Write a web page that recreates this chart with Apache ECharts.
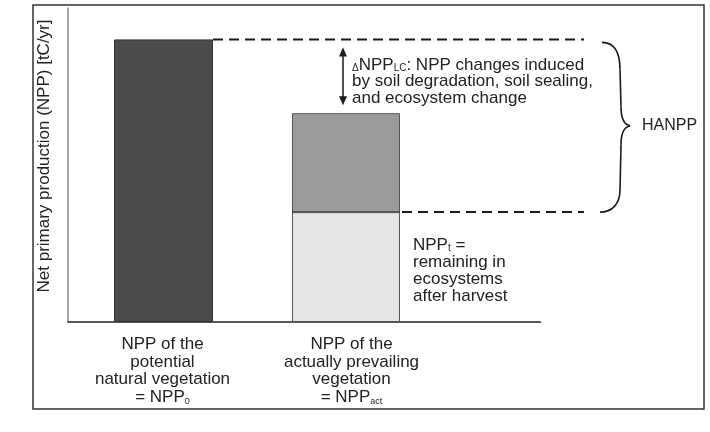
<!DOCTYPE html>
<html><head><meta charset="utf-8">
<script src="https://cdn.jsdelivr.net/npm/echarts@6/dist/echarts.min.js"></script>
<style>html,body{margin:0;padding:0;background:#fff}#c{width:710px;height:432px}</style>
</head><body><div id="c"></div>
<script>
// ---- data ----
const categories = [
  'NPP of the\npotential\nnatural vegetation\n= NPP{sub|0}',
  'NPP of the\nactually prevailing\nvegetation\n= NPP{sub|act}'
];
const potentialNPP = [90, null];        // NPP0
const remainingNPP = [null, 35];        // NPPt (remaining after harvest)
const lcChangeNPP  = [null, 31.5];      // part of NPPact above NPPt
const yAxisName = 'Net primary production (NPP) [tC/yr]';
const noteLC = ['{tri|Δ}NPP{sub|LC}: NPP changes induced', 'by soil degradation, soil sealing,', 'and ecosystem change'];
const noteT = ['NPP{sub|t} =', 'remaining in', 'ecosystems', 'after harvest'];
const braceLabel = 'HANPP';

// slots on the category axis (blank slots give spacing)
const slotOf = [1, 3];
const nSlots = 6;
const slots = Array(nSlots).fill('');
slotOf.forEach((s, i) => slots[s] = categories[i]);
const toSlots = arr => { const d = Array(nSlots).fill('-'); slotOf.forEach((s, i) => { if (arr[i] != null) d[s] = arr[i]; }); return d; };

const FONT = 'Liberation Sans, Arial, sans-serif';
const chart = echarts.init(document.getElementById('c'), null, {renderer: 'canvas'});
const subStyle = {fontSize: 9, lineHeight: 10, verticalAlign: 'bottom', fontFamily: FONT, color: '#222'};
chart.setOption({
  animation: false,
  grid: {left: 68, top: 8, bottom: 110, right: 169.5},
  xAxis: {
    type: 'category', data: slots, boundaryGap: false,
    axisLine: {lineStyle: {color: '#222', width: 1.5}},
    axisTick: {show: false},
    axisLabel: {interval: 0, margin: 14, fontSize: 17, lineHeight: 17.5, color: '#222', fontFamily: FONT,
      rich: {sub: subStyle}}
  },
  yAxis: {
    type: 'value', min: 0, max: 100,
    axisLine: {show: true, lineStyle: {color: '#8a8a8a', width: 1.5}},
    axisTick: {show: false}, axisLabel: {show: false}, splitLine: {show: false},
    name: yAxisName, nameLocation: 'middle', nameGap: 15, nameRotate: 90,
    nameTextStyle: {fontSize: 17, color: '#222', fontFamily: FONT, padding: [0, 0, 0, 18]}
  },
  series: [
    {type: 'bar', stack: 'pot', barWidth: 99, barGap: '-111.1%', data: toSlots(potentialNPP),
      itemStyle: {color: '#4b4b4b', borderColor: '#333', borderWidth: 1}},
    {type: 'bar', stack: 'act', barWidth: 108, barGap: '-111.1%', data: toSlots(remainingNPP),
      itemStyle: {color: '#e4e4e4', borderColor: '#555', borderWidth: 1}},
    {type: 'bar', stack: 'act', barWidth: 108, barGap: '-111.1%', data: toSlots(lcChangeNPP),
      itemStyle: {color: '#9a9a9a', borderColor: '#555', borderWidth: 1}}
  ]
});

// ---- annotations (y from data via the axis) ----
const py = v => chart.convertToPixel({yAxisIndex: 0}, v);
const yTop = py(potentialNPP[0]);
const yAct = py(remainingNPP[1] + lcChangeNPP[1]);
const yT = py(remainingNPP[1]);
const yMid = (yTop + yT) / 2;
const ink = '#1a1a1a';
const richTxt = {sub: {fontSize: 10, lineHeight: 11, verticalAlign: 'bottom', fill: '#222', fontFamily: FONT},
                 tri: {fontSize: 10, lineHeight: 12, verticalAlign: 'bottom', fill: '#222', fontFamily: FONT}};
const braceStyle = {fill: null, stroke: ink, lineWidth: 1.6};
const bez = (x1, y1, cx1, cy1, cx2, cy2, x2, y2) => ({type: 'bezierCurve',
  shape: {x1, y1, cpx1: cx1, cpy1: cy1, cpx2: cx2, cpy2: cy2, x2, y2}, style: braceStyle});
const g = [
  {type: 'rect', shape: {x: 33, y: 5, width: 671, height: 404}, style: {fill: null, stroke: '#333', lineWidth: 1.5}, silent: true},
  {type: 'line', shape: {x1: 213, y1: yTop, x2: 584, y2: yTop}, style: {stroke: ink, lineWidth: 2, lineDash: [10, 6]}},
  {type: 'line', shape: {x1: 292, y1: yT, x2: 400, y2: yT}, style: {stroke: '#000', lineWidth: 2}},
  {type: 'line', shape: {x1: 402, y1: yT, x2: 584, y2: yT}, style: {stroke: ink, lineWidth: 2, lineDash: [10, 6]}},
  // double arrow
  {type: 'line', shape: {x1: 343, y1: yTop + 10, x2: 343, y2: yAct - 10}, style: {stroke: ink, lineWidth: 1.5}},
  {type: 'polygon', shape: {points: [[343, yTop + 8], [339, yTop + 17], [347, yTop + 17]]}, style: {fill: ink}},
  {type: 'polygon', shape: {points: [[343, yAct - 8], [339, yAct - 17], [347, yAct - 17]]}, style: {fill: ink}},
  // brace
  bez(602, yTop + 3, 614, yTop + 3, 620, yTop + 12, 620, yTop + 30),
  {type: 'line', shape: {x1: 620, y1: yTop + 30, x2: 621, y2: yMid - 19}, style: braceStyle},
  bez(621, yMid - 19, 621, yMid - 7, 625, yMid - 1, 630, yMid),
  bez(630, yMid, 625, yMid + 1, 621, yMid + 7, 621, yMid + 19),
  {type: 'line', shape: {x1: 621, y1: yMid + 19, x2: 620, y2: yT - 22}, style: braceStyle},
  bez(620, yT - 22, 620, yT - 8, 612, yT, 600, yT),
  {type: 'text', x: 642, y: yMid, style: {text: braceLabel, fontSize: 16, fontFamily: FONT, fill: '#222', verticalAlign: 'middle'}},
  {type: 'text', x: 352, y: 57, style: {text: noteLC.join('\n'), fontSize: 17, lineHeight: 16.5, fontFamily: FONT, fill: '#222', rich: richTxt}},
  {type: 'text', x: 413, y: 236.5, style: {text: noteT.join('\n'), fontSize: 17, lineHeight: 17, fontFamily: FONT, fill: '#222', rich: richTxt}}
];
chart.setOption({graphic: g});
</script></body></html>
